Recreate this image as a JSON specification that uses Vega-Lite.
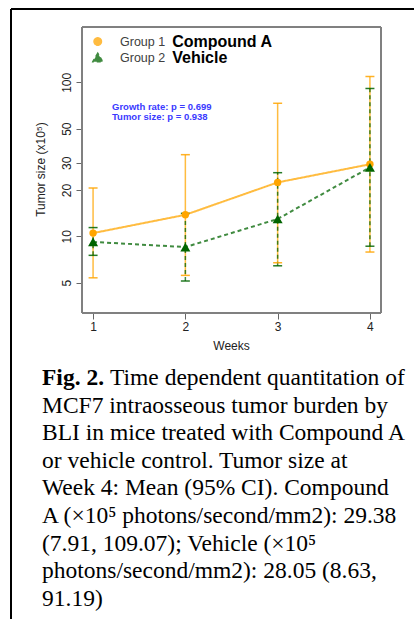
{
  "$schema": "https://vega.github.io/schema/vega-lite/v6.json",
  "background": "white",
  "padding": {"left": 11, "top": 9, "right": 0, "bottom": 0},
  "autosize": {"type": "pad"},
  "config": {"font": "Liberation Sans"},
  "datasets": {
    "tumor": [
      {"week": 1, "group": "Group 1", "drug": "Compound A", "mean": 10.5, "lo": 5.38, "hi": 20.6},
      {"week": 2, "group": "Group 1", "drug": "Compound A", "mean": 13.8, "lo": 5.58, "hi": 33.9},
      {"week": 3, "group": "Group 1", "drug": "Compound A", "mean": 22.4, "lo": 6.74, "hi": 73.1},
      {"week": 4, "group": "Group 1", "drug": "Compound A", "mean": 29.38, "lo": 7.91, "hi": 109.07},
      {"week": 1, "group": "Group 2", "drug": "Vehicle", "mean": 9.2, "lo": 7.53, "hi": 11.4},
      {"week": 2, "group": "Group 2", "drug": "Vehicle", "mean": 8.52, "lo": 5.13, "hi": 14.1},
      {"week": 3, "group": "Group 2", "drug": "Vehicle", "mean": 12.96, "lo": 6.44, "hi": 25.9},
      {"week": 4, "group": "Group 2", "drug": "Vehicle", "mean": 28.05, "lo": 8.63, "hi": 91.19}
    ],
    "caption": [
      {"line": 1, "part": "label", "text": "Fig. 2."},
      {"line": 1, "part": "first", "text": "Time dependent quantitation of"},
      {"line": 2, "part": "body", "text": "MCF7 intraosseous tumor burden by"},
      {"line": 3, "part": "body", "text": "BLI in mice treated with Compound A"},
      {"line": 4, "part": "body", "text": "or vehicle control.  Tumor size at"},
      {"line": 5, "part": "body", "text": "Week 4: Mean (95% CI). Compound"},
      {"line": 6, "part": "body", "text": "A (×10⁵ photons/second/mm2): 29.38"},
      {"line": 7, "part": "body", "text": "(7.91, 109.07); Vehicle (×10⁵"},
      {"line": 8, "part": "body", "text": "photons/second/mm2): 28.05 (8.63,"},
      {"line": 9, "part": "body", "text": "91.19)"}
    ]
  },
  "width": 403,
  "height": 610,
  "view": {"stroke": "black", "strokeWidth": 2, "strokeDash": [403, 1013, 610, 0]},
  "title": {
    "text": ["Growth rate: p = 0.699", "Tumor size: p = 0.938"],
    "orient": "top", "anchor": "start", "frame": "group", "offset": 0,
    "dx": 101, "dy": 112.7, "baseline": "top", "align": "left",
    "fontSize": 9.5, "fontWeight": "bold", "font": "Liberation Sans",
    "color": "#3a3aff", "lineHeight": 10
  },
  "resolve": {
    "scale": {"x": "independent", "y": "independent"},
    "axis": {"x": "independent", "y": "independent"}
  },
  "layer": [
    {
      "data": {"name": "tumor"},
      "encoding": {
        "x": {
          "field": "week", "type": "quantitative",
          "scale": {"domain": [0.1106, 4.4776], "nice": false, "zero": false},
          "axis": {
            "orient": "bottom", "offset": -306,
            "title": "Weeks", "values": [1, 2, 3, 4], "format": "d",
            "tickSize": 6, "labelPadding": 2, "titlePadding": 8, "titleX": 220,
            "domain": false, "grid": false, "labelFlush": false,
            "labelFontSize": 12, "titleFontSize": 12, "titleFontWeight": "normal",
            "labelColor": "#222", "titleColor": "#222", "tickColor": "#666",
            "labelFont": "Liberation Sans", "titleFont": "Liberation Sans"
          }
        }
      },
      "layer": [
        {
          "mark": {"type": "rule", "strokeWidth": 1.5, "opacity": 0.75},
          "encoding": {
            "y": {
              "field": "lo", "type": "quantitative",
              "title": "Tumor size (x10⁵)",
              "scale": {"type": "log", "domain": [0.0328, 299.2], "nice": false},
              "axis": {
                "orient": "left", "offset": -71,
                "title": "Tumor size (x10⁵)", "values": [5, 10, 20, 30, 50, 100], "format": "d",
                "labelAngle": -90, "labelAlign": "center", "labelBaseline": "bottom",
                "tickSize": 6, "labelPadding": 3, "titlePadding": 13, "titleY": 160, "labelOverlap": false,
                "domain": false, "grid": false, "labelFlush": false,
                "labelFontSize": 12, "titleFontSize": 12, "titleFontWeight": "normal",
                "labelColor": "#222", "titleColor": "#222", "tickColor": "#666",
                "labelFont": "Liberation Sans", "titleFont": "Liberation Sans"
              }
            },
            "y2": {"field": "hi"},
            "color": {"field": "group", "type": "nominal", "scale": {"domain": ["Group 1", "Group 2"], "range": ["#FFA500", "#006400"]}},
            "strokeDash": {"field": "group", "type": "nominal", "scale": {"domain": ["Group 1", "Group 2"], "range": [[1, 0], [4, 3]]}, "legend": null}
          }
        },
        {
          "mark": {"type": "rect", "filled": false, "stroke": "#808080", "strokeWidth": 1},
          "encoding": {
            "x": {"datum": 0.88, "type": "quantitative"},
            "x2": {"datum": 4.12},
            "y": {"datum": 3.18, "type": "quantitative", "title": "Tumor size (x10⁵)"},
            "y2": {"datum": 228.6}
          }
        },
        {
          "mark": {"type": "tick", "orient": "horizontal", "size": 9, "thickness": 1.5, "opacity": 0.85},
          "encoding": {
            "y": {"field": "hi", "type": "quantitative", "title": "Tumor size (x10⁵)"},
            "color": {"field": "group", "type": "nominal"}
          }
        },
        {
          "mark": {"type": "tick", "orient": "horizontal", "size": 9, "thickness": 1.5, "opacity": 0.85},
          "encoding": {
            "y": {"field": "lo", "type": "quantitative", "title": "Tumor size (x10⁵)"},
            "color": {"field": "group", "type": "nominal"}
          }
        },
        {
          "mark": {"type": "line", "strokeWidth": 2, "opacity": 0.75},
          "encoding": {
            "y": {"field": "mean", "type": "quantitative", "title": "Tumor size (x10⁵)"},
            "color": {"field": "group", "type": "nominal"},
            "strokeDash": {"field": "group", "type": "nominal", "legend": null}
          }
        },
        {
          "mark": {"type": "point", "filled": true},
          "encoding": {
            "y": {"field": "mean", "type": "quantitative", "title": "Tumor size (x10⁵)"},
            "shape": {"field": "group", "type": "nominal", "scale": {"domain": ["Group 1", "Group 2"], "range": ["circle", "triangle-up"]}, "legend": null},
            "size": {"field": "group", "type": "nominal", "scale": {"domain": ["Group 1", "Group 2"], "range": [55, 100]}, "legend": null},
            "color": {
              "field": "group", "type": "nominal",
              "legend": {
                "orient": "none", "legendX": 80.5, "legendY": 24.8, "title": null,
                "padding": 0, "clipHeight": 15.4, "rowPadding": 0,
                "symbolSize": 576, "symbolStrokeWidth": 1.5, "labelOffset": 16,
                "labelFontSize": 12.5, "labelColor": "#404040", "labelFont": "Liberation Sans",
                "labelBaseline": "middle",
                "encode": {
                  "symbols": {
                    "shape": {"condition": {"test": "datum.value === 'Group 1'", "value": "M-1,0H1M0.275,0A0.275,0.275,0,1,1,-0.275,0A0.275,0.275,0,1,1,0.275,0Z"}, "value": "M-1,0H1M0,-0.3L0.29,0.2L-0.29,0.2Z"},
                    "size": {"value": 576},
                    "fill": {"condition": {"test": "datum.value === 'Group 1'", "value": "#FFA500"}, "value": "#006400"},
                    "stroke": {"condition": {"test": "datum.value === 'Group 1'", "value": "#FFBB40"}, "value": "#408B40"},
                    "strokeDash": {"condition": {"test": "datum.value === 'Group 1'", "value": [1, 0]}, "value": [2, 2]},
                    "strokeWidth": {"value": 1.5},
                    "opacity": {"value": 1}
                  }
                }
              }
            },
            "opacity": {
              "field": "drug", "type": "ordinal",
              "scale": {"domain": ["Compound A", "Vehicle"], "range": [1, 1]},
              "legend": {
                "orient": "none", "legendX": 145.2, "legendY": 24.8, "title": null,
                "padding": 0, "clipHeight": 15.4, "rowPadding": -1,
                "symbolType": "M0,0", "symbolSize": 1, "symbolOpacity": 0, "symbolStrokeWidth": 0, "labelOffset": 0,
                "labelFontSize": 16, "labelFontWeight": "bold", "labelColor": "black",
                "labelFont": "Liberation Sans", "labelBaseline": "middle",
                "encode": {"symbols": {"opacity": {"value": 0}, "fill": {"value": "transparent"}, "stroke": {"value": "transparent"}}}
              }
            }
          }
        }
      ]
    },
    {
      "data": {"name": "caption"},
      "encoding": {
        "x": {"datum": 0, "type": "quantitative", "scale": {"domain": [0, 1]}, "axis": null},
        "y": {"field": "line", "type": "quantitative", "scale": {"domain": [-12.623, 9.478], "reverse": true, "nice": false, "zero": false}, "axis": null},
        "text": {"field": "text"}
      },
      "layer": [
        {
          "transform": [{"filter": "datum.part === 'label'"}],
          "mark": {"type": "text", "align": "left", "baseline": "alphabetic", "font": "Liberation Serif", "fontSize": 23.5, "fontWeight": "bold", "color": "black", "dx": 31}
        },
        {
          "transform": [{"filter": "datum.part === 'first'"}],
          "mark": {"type": "text", "align": "left", "baseline": "alphabetic", "font": "Liberation Serif", "fontSize": 23.5, "color": "black", "dx": 99}
        },
        {
          "transform": [{"filter": "datum.part === 'body'"}],
          "mark": {"type": "text", "align": "left", "baseline": "alphabetic", "font": "Liberation Serif", "fontSize": 23.5, "color": "black", "dx": 31}
        }
      ]
    }
  ]
}
